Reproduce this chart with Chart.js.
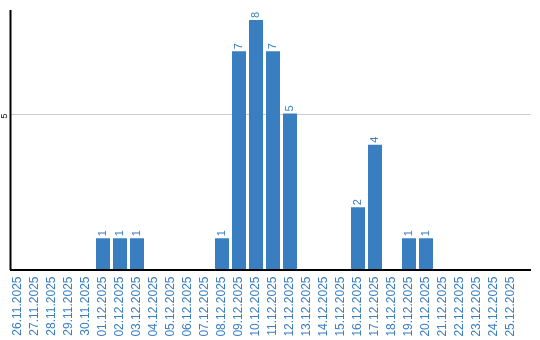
<!DOCTYPE html>
<html>
<head>
<meta charset="utf-8">
<script src="https://cdn.jsdelivr.net/npm/chart.js@4/dist/chart.umd.min.js"></script>
<style>
  html, body { margin: 0; padding: 0; background: #fff; }
  #wrap { width: 540px; height: 340px; }
</style>
</head>
<body>
<div id="wrap"><canvas id="barChart"></canvas></div>
<script>
const dates = [
  "26.11.2025", "27.11.2025", "28.11.2025", "29.11.2025", "30.11.2025",
  "01.12.2025", "02.12.2025", "03.12.2025", "04.12.2025", "05.12.2025",
  "06.12.2025", "07.12.2025", "08.12.2025", "09.12.2025", "10.12.2025",
  "11.12.2025", "12.12.2025", "13.12.2025", "14.12.2025", "15.12.2025",
  "16.12.2025", "17.12.2025", "18.12.2025", "19.12.2025", "20.12.2025",
  "21.12.2025", "22.12.2025", "23.12.2025", "24.12.2025", "25.12.2025"
];
const counts = [
  0, 0, 0, 0, 0,
  1, 1, 1, 0, 0,
  0, 0, 1, 7, 8,
  7, 5, 0, 0, 0,
  2, 4, 0, 1, 1,
  0, 0, 0, 0, 0
];
const yTicks = [5];

const blue = "#3a7ec2";

// axis lines + the single grid line run a bit past the last category, like the original
const axisLines = {
  id: "axisLines",
  beforeDatasetsDraw(chart) {
    const { ctx, chartArea, scales } = chart;
    const right = 531;
    ctx.save();
    ctx.strokeStyle = "#cccccc";
    ctx.lineWidth = 1;
    yTicks.forEach(v => {
      const y = Math.round(scales.y.getPixelForValue(v)) + 0.5;
      ctx.beginPath();
      ctx.moveTo(11, y);
      ctx.lineTo(right, y);
      ctx.stroke();
    });
    ctx.restore();
  },
  afterDatasetsDraw(chart) {
    const { ctx, chartArea } = chart;
    ctx.save();
    ctx.strokeStyle = "#000";
    ctx.lineWidth = 2;
    ctx.beginPath();
    ctx.moveTo(10.5, 10);
    ctx.lineTo(10.5, 270);
    ctx.moveTo(10, 270);
    ctx.lineTo(531, 270);
    ctx.stroke();
    ctx.restore();
  }
};

// value labels above the bars, rotated like the date labels
const barValues = {
  id: "barValues",
  afterDatasetsDraw(chart) {
    const { ctx } = chart;
    const meta = chart.getDatasetMeta(0);
    ctx.save();
    ctx.fillStyle = blue;
    ctx.font = "11px 'Liberation Sans', Arial, sans-serif";
    ctx.textAlign = "left";
    ctx.textBaseline = "middle";
    meta.data.forEach((bar, i) => {
      if (!counts[i]) return;
      ctx.save();
      ctx.translate(bar.x, bar.y - 2);
      ctx.rotate(-Math.PI / 2);
      ctx.fillText(String(counts[i]), 0, 0);
      ctx.restore();
    });
    ctx.restore();
  }
};

new Chart(document.getElementById("barChart").getContext("2d"), {
  type: "bar",
  data: {
    labels: dates,
    datasets: [{
      data: counts,
      backgroundColor: blue,
      barPercentage: 0.824,
      categoryPercentage: 1.0
    }]
  },
  options: {
    responsive: true,
    maintainAspectRatio: false,
    animation: false,
    layout: { padding: { top: 20, right: 20.5, left: 0, bottom: 0 } },
    plugins: {
      legend: { display: false },
      tooltip: { enabled: false }
    },
    scales: {
      x: {
        grid: { display: false, drawTicks: false },
        border: { display: false },
        ticks: {
          color: blue,
          font: { family: "'Liberation Sans', Arial, sans-serif", size: 12 },
          minRotation: 90,
          maxRotation: 90,
          autoSkip: false,
          padding: 7
        },
        afterFit(scale) { scale.height = 70.5; }
      },
      y: {
        min: 0,
        max: 8,
        grid: { display: false, drawTicks: false },
        border: { display: false },
        afterBuildTicks(scale) {
          scale.ticks = yTicks.map(v => ({ value: v }));
        },
        ticks: {
          color: "#000",
          font: { family: "'Liberation Sans', Arial, sans-serif", size: 9 },
          minRotation: 90,
          maxRotation: 90,
          padding: 5
        },
        afterFit(scale) { scale.width = 9.5; }
      }
    }
  },
  plugins: [axisLines, barValues]
});
</script>
</body>
</html>
